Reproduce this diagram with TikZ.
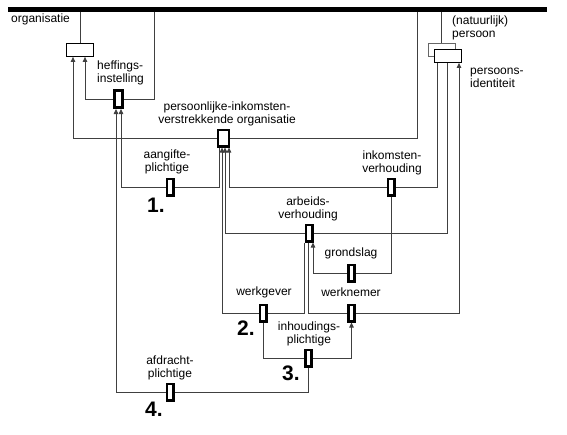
\documentclass[tikz,border=0pt]{standalone}
\usepackage{fontspec}
\setmainfont{Liberation Sans}
\usetikzlibrary{arrows.meta}
\tikzset{
	lijn/.style={draw=black!75, line width=0.8pt},
	pijl/.style={lijn, -{Triangle[length=5pt,width=4.5pt]}},
	rol/.style={draw=black, line width=2.7pt, fill=white, minimum width=6.3pt, minimum height=16.3pt, inner sep=0pt},
	ent/.style={draw=black, line width=0.8pt, fill=white, minimum width=27pt, minimum height=13pt, inner sep=0pt},
	lbl/.style={font=\fontsize{12}{13}\selectfont, inner sep=0pt},
	nr/.style={font=\fontsize{21}{21}\selectfont\bfseries, inner sep=0pt}
}
\begin{document}
\begin{tikzpicture}[x=1pt,y=-1pt]
	\useasboundingbox (0,0) rectangle (567,434);
	\node[fill=black, minimum width=539pt, minimum height=5pt, inner sep=0pt] (balk) at (277.5,9.5) {};

	\node[ent, draw=black!60] (pers) at (441.5,49.5) {};
	\node[ent] (pid) at (447.5,56) {};
	\node[ent] (org) at (80,50) {};

	\node[rol, minimum width=8.3pt, minimum height=17.3pt] (heff) at (118.5,99) {};
	\node[rol, minimum width=11pt] (porg) at (223.5,138) {};
	\node[rol] (aang) at (170,187) {};
	\node[rol] (inkv) at (391,187) {};
	\node[rol] (arbv) at (309,233) {};
	\node[rol] (grond) at (351.5,273) {};
	\node[rol] (wg) at (263,313) {};
	\node[rol] (wn) at (351.5,313) {};
	\node[rol] (inh) at (308.5,358) {};
	\node[rol] (afd) at (170,392) {};

	\node[lbl, anchor=west] (t-org) at (11,19.5) {organisatie};
	\node[lbl, anchor=west, align=left] (t-pers) at (452,27.5) {(natuurlijk)\\persoon};
	\node[lbl, anchor=west, align=left] (t-pid) at (470,77.5) {persoons-\\identiteit};
	\node[lbl, anchor=west, align=left] (t-heff) at (97,73) {heffings-\\instelling};
	\node[lbl, align=center] (t-porg) at (227,113.5) {persoonlijke-inkomsten-\\verstrekkende organisatie};
	\node[lbl, align=center] (t-aang) at (167,161.5) {aangifte-\\plichtige};
	\node[lbl, align=center] (t-inkv) at (392,162.5) {inkomsten-\\verhouding};
	\node[lbl, align=center] (t-arbv) at (308,208.5) {arbeids-\\verhouding};
	\node[lbl] (t-grond) at (351,253) {grondslag};
	\node[lbl] (t-wg) at (264,292) {werkgever};
	\node[lbl] (t-wn) at (351,292) {werknemer};
	\node[lbl, align=center] (t-inh) at (309,334) {inhoudings-\\plichtige};
	\node[lbl, align=center] (t-afd) at (170,367.5) {afdracht-\\plichtige};

	\node[nr] (n1) at (156,205) {1.};
	\node[nr] (n2) at (246,328) {2.};
	\node[nr] (n3) at (291,373) {3.};
	\node[nr] (n4) at (154,409) {4.};

	\draw[lijn] (org.north) -- (org.north |- balk.south);
	\draw[lijn] (pers.north) -- (pers.north |- balk.south);
	\draw[lijn] (154,0 |- balk.south) |- (heff.east);
	\draw[pijl] (heff.west) -| ([xshift=5pt]org.south);
	\draw[lijn] (417,0 |- balk.south) |- (porg.east);
	\draw[pijl] (porg.west) -| ([xshift=-7pt]org.south);
	\draw[lijn] ([xshift=-4.5pt]porg.south) |- (aang.east);
	\draw[pijl] (aang.west) -| ([xshift=2.5pt]heff.south);
	\draw[lijn] (inh.south) |- (afd.east);
	\draw[pijl] (afd.west) -| ([xshift=-2.5pt]heff.south);
	\draw[lijn] ([xshift=-10.5pt]pid.south) |- (inkv.east);
	\draw[pijl] (inkv.west) -| ([xshift=5.5pt]porg.south);
	\draw[lijn] (pid.south) |- (arbv.east);
	\draw[pijl] (arbv.west) -| ([xshift=1.5pt]porg.south);
	\draw[lijn] ([xshift=-5pt]arbv.south) |- (wg.east);
	\draw[pijl] (wg.west) -| ([xshift=-1.5pt]porg.south);
	\draw[lijn] ([xshift=-1pt]arbv.south) |- (wn.west);
	\draw[pijl] (wn.east) -| ([xshift=11.5pt]pid.south);
	\draw[lijn] (inkv.south) |- (grond.east);
	\draw[pijl] (grond.west) -| ([xshift=4pt]arbv.south);
	\draw[lijn] (wg.south) |- (inh.west);
	\draw[pijl] (inh.east) -| (wn.south);
\end{tikzpicture}
\end{document}
